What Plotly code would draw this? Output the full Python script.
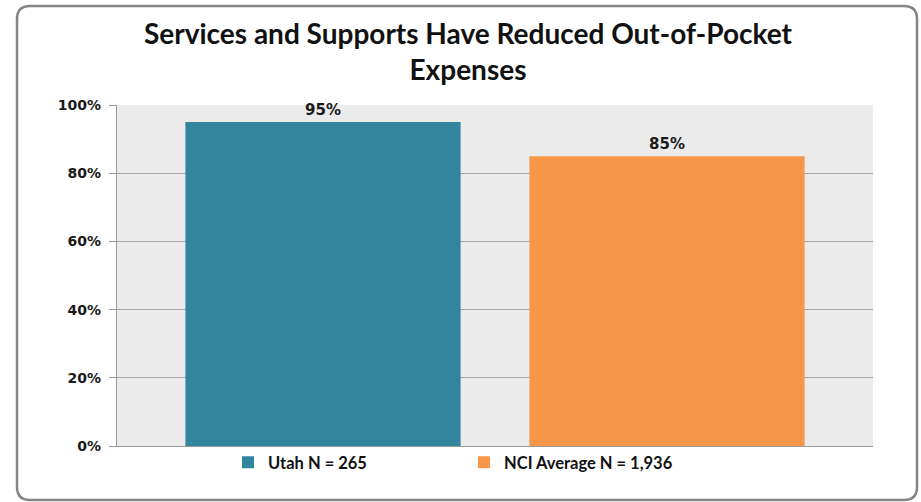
import plotly.graph_objects as go

categories = [""]
series_names = ["Utah N = 265", "NCI Average N = 1,936"]
series_values = [0.95, 0.85]
series_labels = ["95%", "85%"]
series_colors = ["#31859C", "#F79646"]
tick_vals = [0, 0.2, 0.4, 0.6, 0.8, 1.0]
tick_text = ["0%", "20%", "40%", "60%", "80%", "100%"]
title_text = "Services and Supports Have Reduced Out-of-Pocket<br>Expenses"

W, H = 921, 502
L, R, T, B = 117, 48, 105, 56
pw, ph = W - L - R, H - T - B

def px(x):
    return (x - L) / pw

def py(y):
    return (H - B - y) / ph

fig = go.Figure()
for name, val, lab, col in zip(series_names, series_values, series_labels, series_colors):
    fig.add_trace(go.Bar(
        x=categories, y=[val], name=name, marker_color=col, marker_line_width=0,
        text=[lab], textposition="outside", cliponaxis=False,
        textfont=dict(family="DejaVu Sans", size=15, color="#1a1a1a", weight="bold"),
    ))

# rounded outer border
x0, x1, y0, y1, r = 17, 917, 6, 500, 13
path = (f"M {px(x0+r)},{py(y0)} L {px(x1-r)},{py(y0)} Q {px(x1)},{py(y0)} {px(x1)},{py(y0+r)} "
        f"L {px(x1)},{py(y1-r)} Q {px(x1)},{py(y1)} {px(x1-r)},{py(y1)} "
        f"L {px(x0+r)},{py(y1)} Q {px(x0)},{py(y1)} {px(x0)},{py(y1-r)} "
        f"L {px(x0)},{py(y0+r)} Q {px(x0)},{py(y0)} {px(x0+r)},{py(y0)} Z")

fig.update_layout(
    width=W, height=H,
    margin=dict(l=L, r=R, t=T, b=B),
    paper_bgcolor="white", plot_bgcolor="#EBEBEB",
    barmode="group", bargap=0.09, bargroupgap=0.2,
    annotations=[dict(text=title_text, xref="paper", yref="paper", x=px(468), y=py(51),
                      xanchor="center", yanchor="middle", showarrow=False,
                      font=dict(family="Lato", size=28, color="#111111", weight="bold"))],
    showlegend=True,
    legend=dict(orientation="h", x=px(228), xanchor="left", y=py(445), yanchor="top",
                bgcolor="rgba(0,0,0,0)",
                font=dict(family="Lato", size=16.5, color="#111111", weight="bold"),
                itemwidth=30, tracegroupgap=0, entrywidth=191),
    shapes=[dict(type="path", path=path, xref="paper", yref="paper",
                 line=dict(color="#858585", width=2.5), layer="above")],
    yaxis=dict(range=[0, 1], tickvals=tick_vals, ticktext=tick_text,
               showgrid=True, gridcolor="#A6A6A6", gridwidth=1.3,
               showline=True, linecolor="#999999", linewidth=1.3,
               ticks="outside", ticklen=7, tickcolor="#999999", ticklabelstandoff=5,
               tickfont=dict(family="DejaVu Sans", size=14, color="#1a1a1a", weight="bold"),
               zeroline=False, fixedrange=True),
    xaxis=dict(showticklabels=False, showline=True, linecolor="#999999", linewidth=1.3,
               ticks="", fixedrange=True),
)

fig.write_html("out.html", config={"displayModeBar": False},
               post_script="document.body.style.margin='0';document.body.style.overflow='hidden';")
